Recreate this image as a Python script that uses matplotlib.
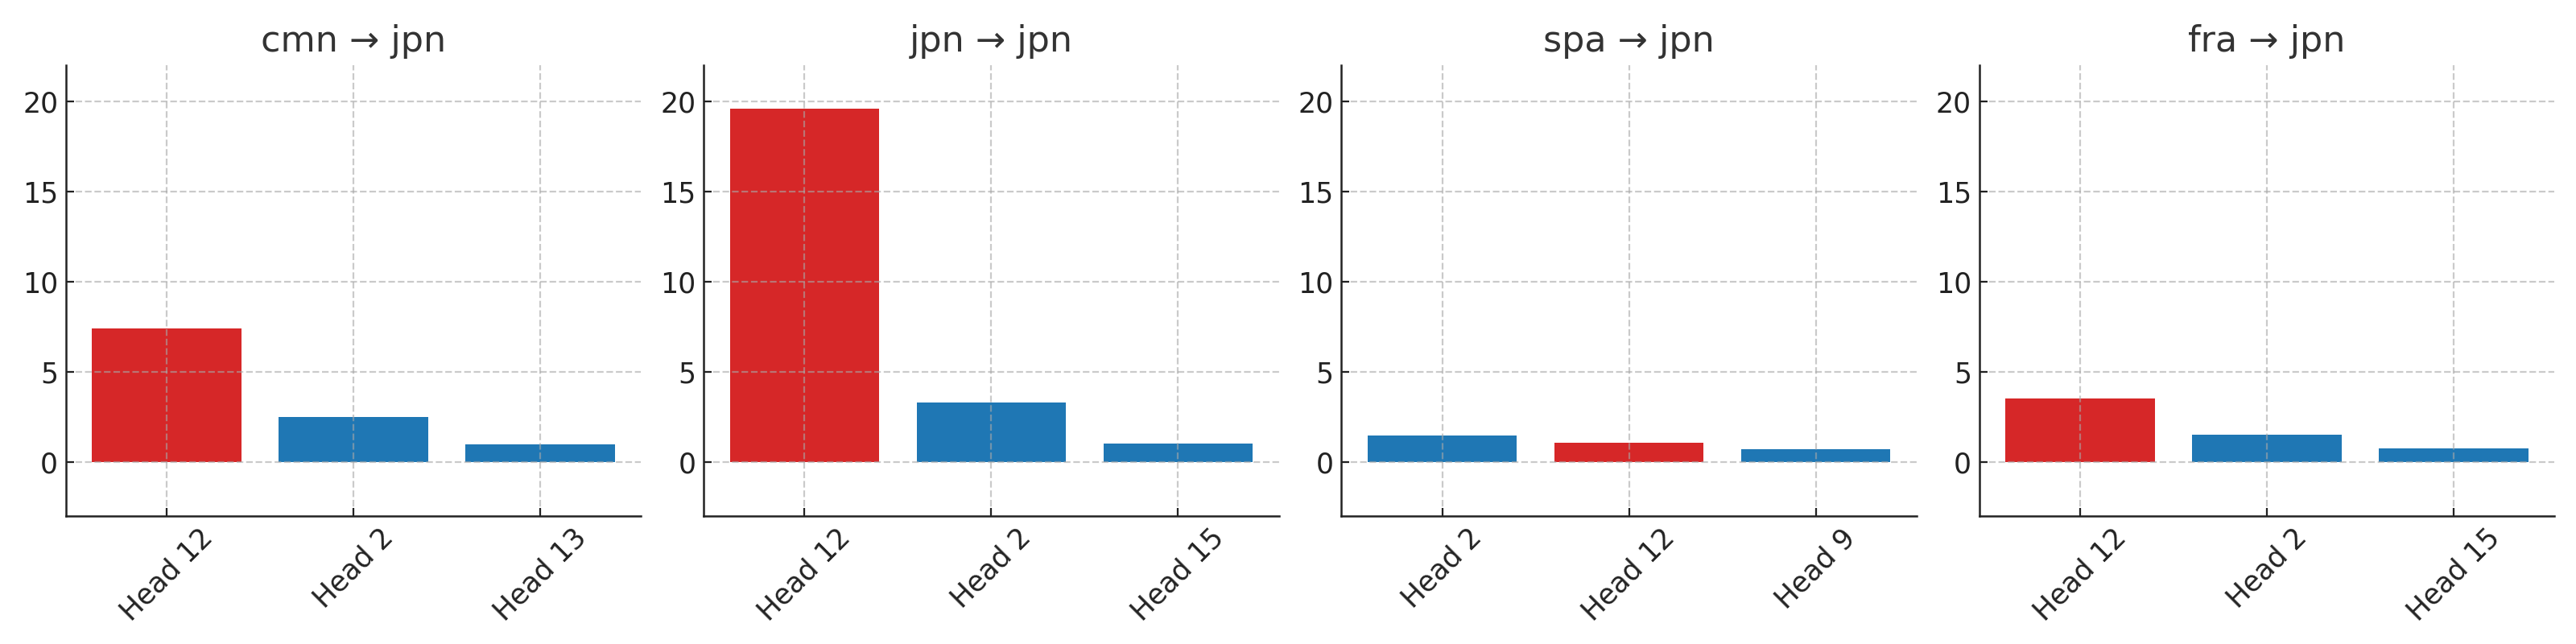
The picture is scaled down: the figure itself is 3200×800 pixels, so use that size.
import matplotlib
matplotlib.use("Agg")
import matplotlib.pyplot as plt

titles = ["cmn → jpn", "jpn → jpn", "spa → jpn", "fra → jpn"]
labels = [
    ["Head 12", "Head 2", "Head 13"],
    ["Head 12", "Head 2", "Head 15"],
    ["Head 2", "Head 12", "Head 9"],
    ["Head 12", "Head 2", "Head 15"],
]
values = [
    [7.41, 2.46, 0.95],
    [19.6, 3.30, 0.99],
    [1.46, 1.06, 0.70],
    [3.52, 1.51, 0.75],
]
highlight = "Head 12"
red = "#d62728"
blue = "#1f77b4"

plt.rcParams["font.family"] = ["DejaVu Sans"]
fig, axes = plt.subplots(1, 4, figsize=(16, 4), dpi=200)
fig.subplots_adjust(left=0.0256, right=0.9916, top=0.899, bottom=0.199, wspace=0.109)

for ax, t, labs, vals in zip(axes, titles, labels, values):
    cols = [red if l == highlight else blue for l in labs]
    ax.bar(range(len(labs)), vals, color=cols, width=0.8, zorder=1)
    ax.set_xticks(range(len(labs)))
    ax.set_xticklabels(labs, rotation=45, fontsize=12.5, color="#222222")
    ax.set_ylim(-3, 22)
    ax.set_yticks([0, 5, 10, 15, 20])
    ax.tick_params(axis="both", direction="in", length=3.5, width=0.8, color="#222222")
    ax.tick_params(axis="y", labelsize=12.5, labelcolor="#222222")
    ax.set_title(t, fontsize=16, color="#333333")
    ax.grid(True, linestyle="--", color="#a8a8a8", alpha=0.6, linewidth=0.8, zorder=2)
    ax.set_axisbelow(False)
    for s in ["top", "right"]:
        ax.spines[s].set_visible(False)
    for s in ["left", "bottom"]:
        ax.spines[s].set_color("#222222")
        ax.spines[s].set_linewidth(0.9)

fig.savefig("out.png", dpi=200)
